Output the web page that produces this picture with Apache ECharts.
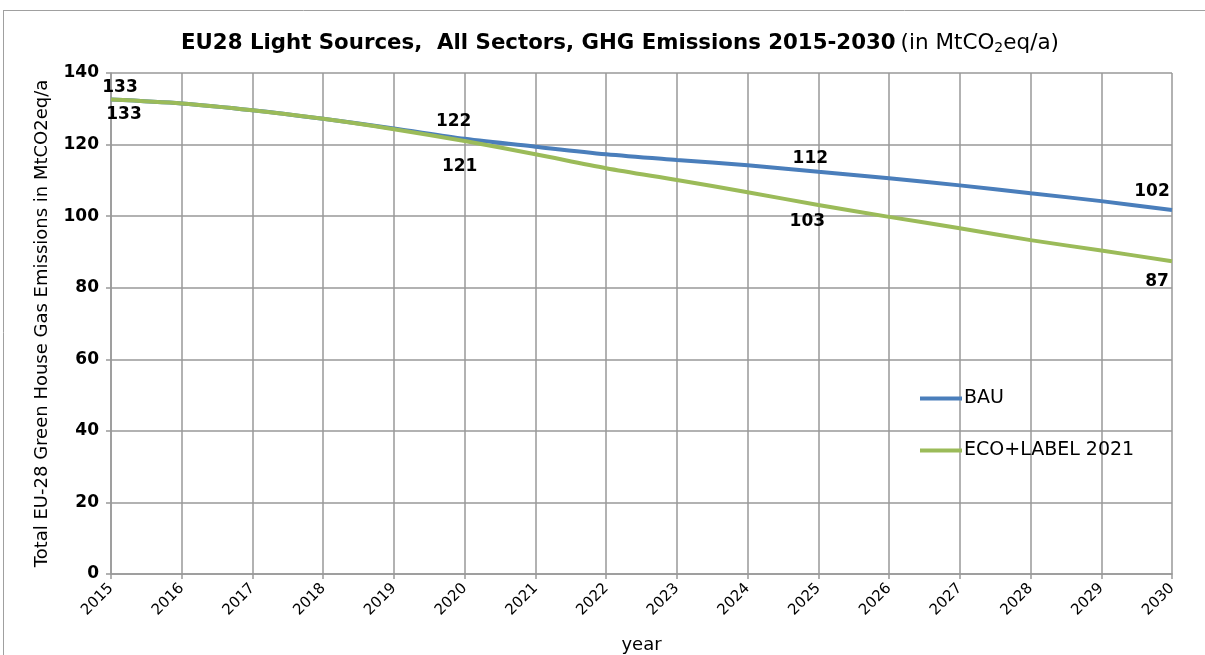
<!DOCTYPE html>
<html>
<head>
<meta charset="utf-8">
<script src="https://cdn.jsdelivr.net/npm/echarts@6/dist/echarts.min.js"></script>
<style>
  html, body { margin: 0; padding: 0; background: #fff; }
  #chart { width: 1205px; height: 655px; }
</style>
</head>
<body>
<div id="chart"></div>
<script>
// Years on the horizontal axis
const years = ['2015','2016','2017','2018','2019','2020','2021','2022','2023','2024','2025','2026','2027','2028','2029','2030'];

// Total EU-28 GHG emissions, MtCO2eq/a
const bauValues = [132.6, 131.5, 129.6, 127.2, 124.5, 121.6, 119.4, 117.3, 115.7, 114.2, 112.4, 110.6, 108.6, 106.4, 104.2, 101.7];
const ecoValues = [132.6, 131.5, 129.6, 127.2, 124.3, 121.0, 117.3, 113.4, 110.1, 106.7, 103.1, 99.8, 96.6, 93.3, 90.4, 87.4];

// Y axis ticks
const yMin = 0, yMax = 140, yStep = 20;

// Years whose values are written on the chart
const labelledYears = ['2015', '2020', '2025', '2030'];

const FONT = 'DejaVu Sans, Verdana, sans-serif';

// Label placement per series and year
const bauLabelPlace = {
  '2015': { position: 'top', offset: [9, 2] },
  '2020': { position: 'top', offset: [-11, -4] },
  '2025': { position: 'top', offset: [-8, 0] },
  '2030': { position: 'top', offset: [-20, -5] }
};
const ecoLabelPlace = {
  '2015': { position: 'bottom', offset: [13, 2] },
  '2020': { position: 'bottom', offset: [-5, 12] },
  '2025': { position: 'bottom', offset: [-11, 3] },
  '2030': { position: 'bottom', offset: [-15, 7] }
};

function buildData(values, place) {
  return values.map((v, i) => {
    const y = years[i];
    if (labelledYears.indexOf(y) < 0) return v;
    return {
      value: v,
      label: Object.assign({
        show: true,
        formatter: p => String(Math.round(p.value)),
        color: '#000',
        fontFamily: FONT,
        fontWeight: 'bold',
        fontSize: 17
      }, place[y])
    };
  });
}

const chart = echarts.init(document.getElementById('chart'), null, { renderer: 'canvas' });

chart.setOption({
  animation: false,
  backgroundColor: '#fff',
  title: {
    text: '{b|EU28 Light Sources,  All Sectors, GHG Emissions 2015-2030} {n|(in MtCO}{s|2}{n|eq/a)}',
    left: 176,
    top: 26,
    textStyle: {
      rich: {
        b: { fontFamily: FONT, fontWeight: 'bold', fontSize: 21.3, color: '#000' },
        n: { fontFamily: FONT, fontWeight: 'normal', fontSize: 21.5, color: '#000' },
        s: { fontFamily: FONT, fontWeight: 'normal', fontSize: 14, color: '#000', verticalAlign: 'bottom', padding: [10, 0, 0, 0] }
      }
    }
  },
  graphic: [
    { type: 'line', shape: { x1: 3, y1: 10.5, x2: 1205, y2: 10.5 }, style: { stroke: '#a0a0a0', lineWidth: 1 } },
    { type: 'line', shape: { x1: 3.5, y1: 10, x2: 3.5, y2: 655 }, style: { stroke: '#a0a0a0', lineWidth: 1 } }
  ],
  grid: { left: 111, right: 33, top: 73, bottom: 81, containLabel: false, outerBoundsMode: 'none' },
  legend: {
    orient: 'vertical',
    left: 915,
    top: 384,
    itemWidth: 42,
    itemHeight: 4,
    itemGap: 33,
    icon: 'rect',
    textStyle: { fontFamily: FONT, fontSize: 19, color: '#000', padding: [0, 0, 0, -3] },
    data: ['BAU', 'ECO+LABEL 2021']
  },
  xAxis: {
    type: 'category',
    data: years,
    boundaryGap: false,
    name: 'year',
    nameLocation: 'middle',
    nameGap: 62,
    nameTextStyle: { fontFamily: FONT, fontSize: 18, color: '#000' },
    axisLine: { lineStyle: { color: '#999', width: 1.5 } },
    axisTick: { show: true, length: 5, lineStyle: { color: '#999', width: 1.5 } },
    axisLabel: { rotate: 45, fontFamily: FONT, fontSize: 15, color: '#000', margin: 12, interval: 0 },
    splitLine: { show: true, lineStyle: { color: '#999', width: 1.5 } }
  },
  yAxis: {
    type: 'value',
    min: yMin,
    max: yMax,
    interval: yStep,
    name: 'Total EU-28 Green House Gas Emissions in MtCO2eq/a',
    nameLocation: 'middle',
    nameGap: 60,
    nameTextStyle: { fontFamily: FONT, fontSize: 18, color: '#000' },
    axisLine: { show: true, lineStyle: { color: '#999', width: 1.5 } },
    axisTick: { show: true, length: 5, lineStyle: { color: '#999', width: 1.5 } },
    axisLabel: { fontFamily: FONT, fontSize: 17, fontWeight: 'bold', color: '#000', margin: 12 },
    splitLine: { show: true, lineStyle: { color: '#999', width: 1.5 } }
  },
  series: [
    {
      name: 'BAU',
      type: 'line',
      data: buildData(bauValues, bauLabelPlace),
      smooth: 0.3,
      showSymbol: true,
      symbol: 'circle',
      symbolSize: 0,
      lineStyle: { color: '#4a7ebb', width: 4 },
      itemStyle: { color: '#4a7ebb' },
      z: 3
    },
    {
      name: 'ECO+LABEL 2021',
      type: 'line',
      data: buildData(ecoValues, ecoLabelPlace),
      smooth: 0.3,
      showSymbol: true,
      symbol: 'circle',
      symbolSize: 0,
      lineStyle: { color: '#9bbb59', width: 4 },
      itemStyle: { color: '#9bbb59' },
      z: 4
    }
  ]
});
</script>
</body>
</html>
